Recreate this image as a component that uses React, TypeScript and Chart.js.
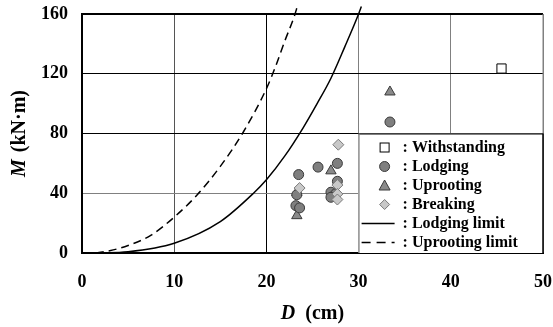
import React, { useEffect, useRef } from "react";
import { Chart, registerables } from "chart.js";

Chart.register(...registerables);

const xTicks = [0, 10, 20, 30, 40, 50];
const yTicks = [0, 40, 80, 120, 160];

const withstandingD = [45.5];
const withstandingM = [123.5];

const lodgingD = [23.5, 25.6, 27.7, 27.7, 23.3, 23.2, 23.6, 27.0, 27.5, 27.0, 33.4];
const lodgingM = [52.5, 57.5, 60.0, 48.0, 39.0, 31.7, 30.2, 40.7, 39.6, 37.3, 87.7];

const uprootingD = [23.3, 27.0, 33.4, 23.3];
const uprootingM = [25.0, 55.0, 107.8, 40.5];

const breakingD = [27.8, 23.6, 27.7, 27.7, 27.7];
const breakingM = [72.5, 43.5, 45.5, 39.5, 35.8];

const lodgingLimitD = [1, 2, 5, 10, 15, 18.6, 20, 22, 24, 25.5, 27, 28.5, 30, 30.3];
const lodgingLimitM = [0, 0.05, 0.8, 6.5, 21, 40, 49, 65, 84, 100, 117, 138, 160, 165];

const uprootingLimitD = [1.5, 3, 5, 7.5, 10, 12.5, 15, 17.5, 20, 21, 22, 23, 23.4];
const uprootingLimitM = [0, 1.5, 5, 12, 24, 39, 58, 81, 110, 125, 142, 158, 166];

const legendLabels = [
  ": Withstanding",
  ": Lodging",
  ": Uprooting",
  ": Breaking",
  ": Lodging limit",
  ": Uprooting limit",
];

const pts = (xs: number[], ys: number[]) => xs.map((x, i) => ({ x, y: ys[i] }));

const FONT = "'Liberation Serif', 'Times New Roman', serif";
const CIRCLE_FILL = "#7f7f7f";
const CIRCLE_BORDER = "#3a3a3a";
const TRI_FILL = "#8a8a8a";
const DIA_FILL = "#c8c8c8";
const DIA_BORDER = "#7a7a7a";

const overlayPlugin = {
  id: "overlay",
  afterDraw(chart: any) {
    const ctx = chart.ctx as CanvasRenderingContext2D;
    const area = chart.chartArea;
    const xs = chart.scales.x;
    const ys = chart.scales.y;
    ctx.save();
    ctx.strokeStyle = "#000";
    ctx.lineWidth = 2;
    ctx.beginPath();
    ctx.moveTo(area.left, area.top);
    ctx.lineTo(area.right, area.top);
    ctx.stroke();
    ctx.strokeStyle = "#808080";
    ctx.lineWidth = 1;
    ctx.beginPath();
    ctx.moveTo(area.right, area.top);
    ctx.lineTo(area.right, area.bottom);
    ctx.stroke();

    // legend box
    const lx = xs.getPixelForValue(30);
    const ly = ys.getPixelForValue(80);
    const rx = area.right;
    const by = area.bottom;
    ctx.fillStyle = "#fff";
    ctx.fillRect(lx, ly, rx - lx, by - ly);
    ctx.strokeStyle = "#000";
    ctx.lineWidth = 1;
    ctx.beginPath();
    ctx.moveTo(lx, ly + 0.5);
    ctx.lineTo(rx, ly + 0.5);
    ctx.stroke();
    ctx.strokeStyle = "#808080";
    ctx.beginPath();
    ctx.moveTo(lx + 0.5, ly);
    ctx.lineTo(lx + 0.5, by);
    ctx.stroke();
    ctx.strokeStyle = "#000";
    ctx.lineWidth = 1.5;
    ctx.beginPath();
    ctx.moveTo(rx, ly);
    ctx.lineTo(rx, by);
    ctx.stroke();

    const rowY0 = ly + 14;
    const rowStep = 19;
    const mx = lx + 26;
    const tx = lx + 44;
    ctx.font = `bold 16px ${FONT}`;
    ctx.textBaseline = "middle";
    ctx.textAlign = "left";
    legendLabels.forEach((lab, i) => {
      const cy = rowY0 + i * rowStep;
      ctx.lineWidth = 1;
      if (i === 0) {
        ctx.fillStyle = "#fff";
        ctx.strokeStyle = "#000";
        ctx.fillRect(mx - 4.5, cy - 4.5, 9, 9);
        ctx.strokeRect(mx - 4.5, cy - 4.5, 9, 9);
      } else if (i === 1) {
        ctx.fillStyle = CIRCLE_FILL;
        ctx.strokeStyle = CIRCLE_BORDER;
        ctx.beginPath();
        ctx.arc(mx, cy, 5, 0, Math.PI * 2);
        ctx.fill();
        ctx.stroke();
      } else if (i === 2) {
        ctx.fillStyle = TRI_FILL;
        ctx.strokeStyle = CIRCLE_BORDER;
        ctx.beginPath();
        ctx.moveTo(mx, cy - 5.5);
        ctx.lineTo(mx + 5.5, cy + 4.5);
        ctx.lineTo(mx - 5.5, cy + 4.5);
        ctx.closePath();
        ctx.fill();
        ctx.stroke();
      } else if (i === 3) {
        ctx.fillStyle = DIA_FILL;
        ctx.strokeStyle = DIA_BORDER;
        ctx.beginPath();
        ctx.moveTo(mx, cy - 5);
        ctx.lineTo(mx + 5, cy);
        ctx.lineTo(mx, cy + 5);
        ctx.lineTo(mx - 5, cy);
        ctx.closePath();
        ctx.fill();
        ctx.stroke();
      } else {
        ctx.strokeStyle = "#000";
        ctx.lineWidth = 1.5;
        if (i === 5) ctx.setLineDash([9, 6]);
        ctx.beginPath();
        ctx.moveTo(lx + 3, cy);
        ctx.lineTo(lx + 36, cy);
        ctx.stroke();
        ctx.setLineDash([]);
      }
      ctx.fillStyle = "#000";
      ctx.fillText(lab, tx, cy);
    });

    // axis titles
    ctx.fillStyle = "#000";
    ctx.textBaseline = "middle";
    const fIt = `italic bold 20px ${FONT}`;
    const fB = `bold 20px ${FONT}`;
    ctx.font = fIt;
    const wD = ctx.measureText("D").width;
    ctx.font = fB;
    const wCm = ctx.measureText("(cm)").width;
    const gapX = 10;
    const cx = (area.left + area.right) / 2;
    let sx = cx - (wD + gapX + wCm) / 2;
    const ty = 314;
    ctx.font = fIt;
    ctx.fillText("D", sx, ty);
    ctx.font = fB;
    ctx.fillText("(cm)", sx + wD + gapX, ty);

    ctx.save();
    ctx.translate(20, (area.top + area.bottom) / 2);
    ctx.rotate(-Math.PI / 2);
    ctx.font = fIt;
    const wM = ctx.measureText("M").width;
    ctx.font = fB;
    const wU = ctx.measureText("(kN·m)").width;
    const gapY = 7;
    sx = -(wM + gapY + wU) / 2;
    ctx.font = fIt;
    ctx.fillText("M", sx, 0);
    ctx.font = fB;
    ctx.fillText("(kN·m)", sx + wM + gapY, 0);
    ctx.restore();

    ctx.restore();
  },
};

export default function App() {
  const ref = useRef<HTMLCanvasElement | null>(null);
  useEffect(() => {
    document.body.style.margin = "0";
    if (!ref.current) return;
    const lineCommon = {
      showLine: true,
      pointRadius: 0,
      borderColor: "#000",
      borderWidth: 1.5,
      cubicInterpolationMode: "monotone",
      clip: { left: 0, right: 0, bottom: 0, top: 12 },
    };
    const chart = new Chart(ref.current, {
      type: "scatter",
      data: {
        datasets: [
          {
            label: "Withstanding",
            data: pts(withstandingD, withstandingM),
            pointStyle: "rect",
            pointRadius: 6.5,
            backgroundColor: "#fff",
            borderColor: "#000",
            borderWidth: 1,
            order: 0,
          },
          {
            label: "Lodging",
            data: pts(lodgingD, lodgingM),
            pointStyle: "circle",
            pointRadius: 5,
            backgroundColor: CIRCLE_FILL,
            borderColor: CIRCLE_BORDER,
            borderWidth: 1,
            order: 2,
          },
          {
            label: "Uprooting",
            data: pts(uprootingD, uprootingM),
            pointStyle: "triangle",
            pointRadius: 6,
            backgroundColor: TRI_FILL,
            borderColor: CIRCLE_BORDER,
            borderWidth: 1,
            order: 3,
          },
          {
            label: "Breaking",
            data: pts(breakingD, breakingM),
            pointStyle: "rectRot",
            pointRadius: 5.5,
            backgroundColor: DIA_FILL,
            borderColor: DIA_BORDER,
            borderWidth: 1,
            order: 1,
          },
          {
            label: "Lodging limit",
            data: pts(lodgingLimitD, lodgingLimitM),
            ...lineCommon,
            order: 4,
          } as any,
          {
            label: "Uprooting limit",
            data: pts(uprootingLimitD, uprootingLimitM),
            ...lineCommon,
            borderDash: [8, 5],
            order: 5,
          } as any,
        ],
      },
      options: {
        animation: false,
        responsive: false,
        layout: { padding: { top: 14, right: 10, left: 0, bottom: 0 } },
        plugins: {
          legend: { display: false },
          tooltip: { enabled: false },
        },
        scales: {
          x: {
            type: "linear",
            min: 0,
            max: 50,
            afterBuildTicks: (s: any) => {
              s.ticks = xTicks.map((v) => ({ value: v }));
            },
            afterFit: (s: any) => {
              s.height = 74;
              s.paddingLeft = 0;
              s.paddingRight = 0;
            },
            ticks: {
              color: "#000",
              font: { family: FONT, size: 18, weight: "bold" },
              padding: 19,
              maxRotation: 0,
            },
            grid: {
              drawTicks: false,
              tickLength: 0,
              lineWidth: 1,
              color: (c: any) => {
                const v = c.tick?.value;
                if (v === 20) return "#000";
                if (v === 10) return "#555";
                return "#808080";
              },
            },
            border: { color: "#000", width: 2 },
          },
          y: {
            type: "linear",
            min: 0,
            max: 160,
            afterBuildTicks: (s: any) => {
              s.ticks = yTicks.map((v) => ({ value: v }));
            },
            afterFit: (s: any) => {
              s.width = 82;
              s.paddingTop = 0;
              s.paddingBottom = 0;
            },
            ticks: {
              color: "#000",
              font: { family: FONT, size: 18, weight: "bold" },
              padding: 14,
            },
            grid: {
              drawTicks: false,
              tickLength: 0,
              lineWidth: 1,
              color: (c: any) => {
                const v = c.tick?.value;
                if (v === 40) return "#808080";
                return "#000";
              },
            },
            border: { color: "#000", width: 2 },
          },
        },
      },
      plugins: [overlayPlugin],
    });
    return () => chart.destroy();
  }, []);
  return (
    <div style={{ width: 553, height: 327, background: "#fff" }}>
      <canvas ref={ref} width={553} height={327} style={{ width: 553, height: 327, display: "block" }} />
    </div>
  );
}
